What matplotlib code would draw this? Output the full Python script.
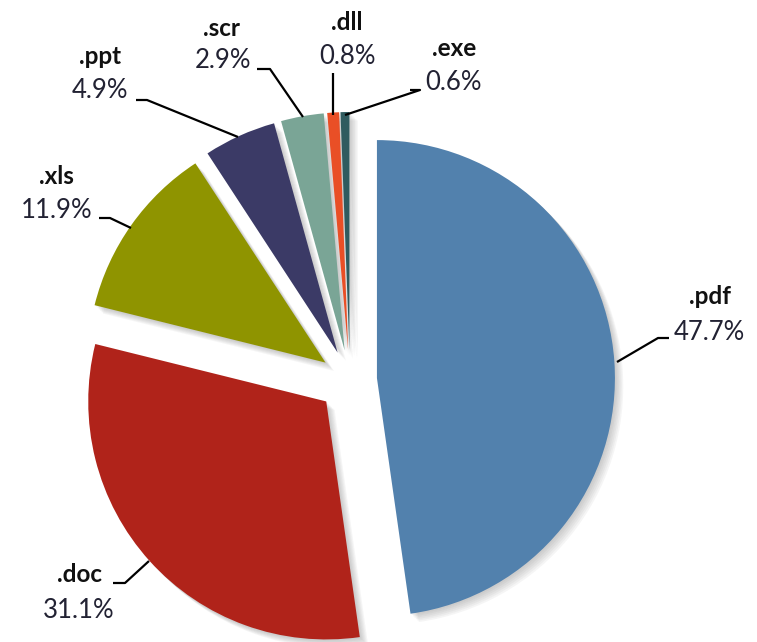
import matplotlib.pyplot as plt
import matplotlib.patheffects as pe

plt.rcParams['font.family'] = ['Lato', 'DejaVu Sans']

# file type shares (%)
types = ['.pdf', '.doc', '.xls', '.ppt', '.scr', '.dll', '.exe']
shares = [47.7, 31.1, 11.9, 4.9, 2.9, 0.8, 0.6]
colors = ['#5281ad', '#b0231a', '#8f9400', '#3b3a66', '#7aa596', '#e94f26', '#2f5b5f']
# pie() moves slices by explode in data units (pixels here)
explode = [27, 32, 30, 30, 30, 30, 30]

W, H = 757, 642
fig = plt.figure(figsize=(W / 100, H / 100), dpi=100)
ax = fig.add_axes([0, 0, 1, 1])

def py(y):
    # image-style y (from top) to axis y
    return H - y

wedges, _ = ax.pie(shares, colors=colors, explode=explode, startangle=90,
                   counterclock=False, center=(350, py(380)), radius=238,
                   wedgeprops=dict(linewidth=0))

# pie() rescales the axes, so fix the pixel frame afterwards
ax.set_xlim(0, W)
ax.set_ylim(0, H)
ax.set_aspect('equal')
ax.axis('off')

# soft drop shadow under each slice
shadow = [pe.SimplePatchShadow(offset=(d, -d), shadow_rgbFace='#606060', alpha=0.06)
          for d in (1, 2, 3, 4, 5, 6)]
for w in wedges:
    w.set_path_effects(shadow + [pe.Normal()])

# label centres (name line, value line) and leader lines
name_pos = [(710, 297), (80, 575), (56, 176), (100, 56), (222, 28), (347, 22), (454, 49)]
value_pos = [(709, 332), (79, 610), (57, 210), (100, 90), (223, 60), (347, 56), (453, 82)]
leaders = [
    [(617, 362), (658, 338), (669, 338)],
    [(113, 583), (125, 583), (149, 561)],
    [(99, 218), (110, 218), (131, 228)],
    [(136, 100), (147, 100), (238, 137)],
    [(257, 69), (270, 69), (303, 117)],
    [(333, 73), (333, 115)],
    [(410, 90), (420, 90), (345, 115)],
]

for name, val, (nx, ny), (vx, vy), pts in zip(types, shares, name_pos, value_pos, leaders):
    ax.text(nx, py(ny), name, ha='center', va='center', fontsize=17.5,
            fontweight='bold', color='#111111')
    ax.text(vx, py(vy), f'{val}%', ha='center', va='center', fontsize=18.5,
            color='#222233')
    ax.plot([p[0] for p in pts], [py(p[1]) for p in pts], color='black', lw=1.6,
            solid_capstyle='butt')

plt.savefig('out.png', dpi=100)
